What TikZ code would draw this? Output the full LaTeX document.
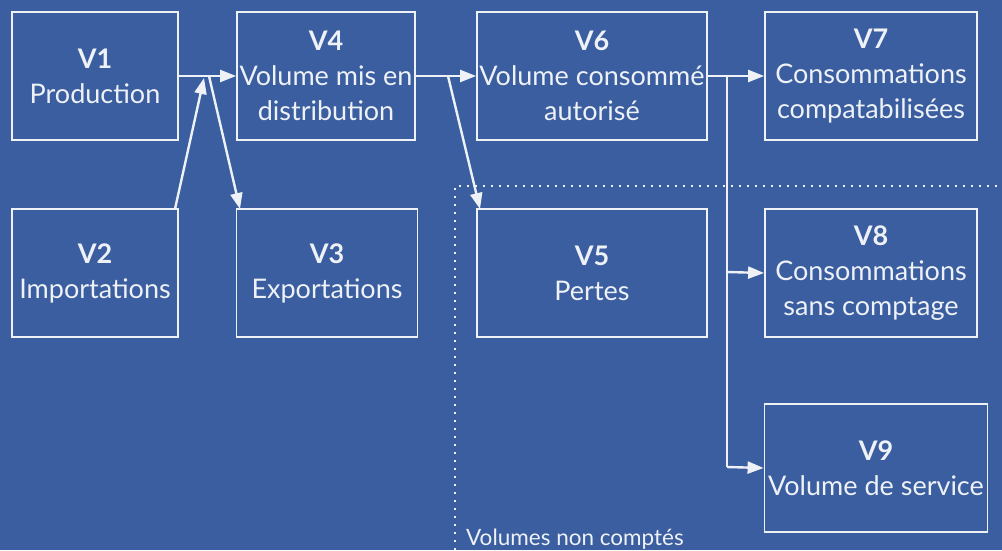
\documentclass[tikz,border=0pt]{standalone}
\usepackage{fontspec}
\setmainfont{Lato}
\usetikzlibrary{arrows.meta}
\definecolor{bg}{RGB}{58,94,160}
\definecolor{fg}{RGB}{238,241,246}
\begin{document}
\begin{tikzpicture}[x=1pt,y=-1pt,
  vbox/.style={draw=fg,line width=1.8pt,text=fg,align=center,inner sep=0pt,
    font=\fontsize{27}{35}\selectfont},
  conn/.style={draw=fg,line width=2.4pt,-{Triangle[length=16pt,width=12pt]}},
  plain/.style={draw=fg,line width=2.4pt}]
\fill[bg] (0,0) rectangle (1002,550);
\useasboundingbox (0,0) rectangle (1002,550);
\newcommand{\vb}[7]{\node[vbox,minimum width=#3,minimum height=#4] (#5) at (#1,#2) {\textbf{#6}\\#7};}
\vb{95}{76}{166pt}{128pt}{v1}{V1}{Production}
\vb{326}{76}{178pt}{128pt}{v4}{V4}{Volume mis en\\distribution}
\vb{592}{76}{230pt}{128pt}{v6}{V6}{Volume consommé\\autorisé}
\vb{871}{76}{212pt}{128pt}{v7}{V7}{Consommations\\compatabilisées}
\vb{95}{273}{166pt}{128pt}{v2}{V2}{Importations}
\vb{327}{273}{181pt}{128pt}{v3}{V3}{Exportations}
\vb{592}{273}{230pt}{128pt}{v5}{V5}{Pertes}
\vb{871}{273}{212pt}{128pt}{v8}{V8}{Consommations\\sans comptage}
\vb{876}{468}{223pt}{128pt}{v9}{V9}{Volume de service}
% connectors
\coordinate (j1b) at (204,78);
\coordinate (j1c) at (209,76);
\coordinate (j2) at (448,76);
\coordinate (j3) at (727,76);
\coordinate (j4) at (727,272);
\coordinate (j5) at (727,467);
\coordinate (v2t) at (175,209);
\coordinate (v3t) at (240,209);
\coordinate (v5t) at (480,209);
\draw[conn] (v1.east) -- (v4.west);
\draw[conn] (v2t) -- (j1b);
\draw[conn] (j1c) -- (v3t);
\draw[conn] (v4.east) -- (v6.west);
\draw[conn] (j2) -- (v5t);
\draw[conn] (v6.east) -- (v7.west);
\draw[plain] (j3) -- (j5);
\draw[conn] (j4) -- (v8.west);
\draw[conn] (j5) -- (v9.west);
% dotted region
\draw[fg,line width=2pt,dash pattern=on 2pt off 6pt] (455,550) -- (455,186) -- (1002,186);
\node[text=fg,anchor=base west,font=\fontsize{22.5}{26}\selectfont,inner sep=0pt] (lbl) at (466,545) {Volumes non comptés};
\end{tikzpicture}
\end{document}
